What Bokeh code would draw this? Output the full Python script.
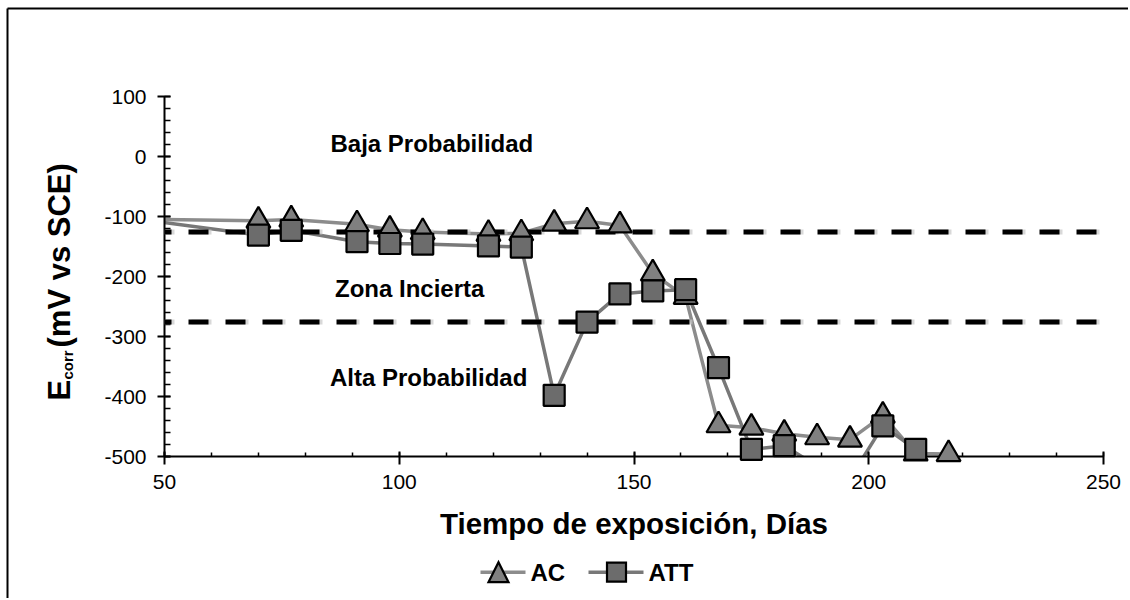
import math
from bokeh.plotting import figure
from bokeh.models import (ColumnDataSource, CDSView, BooleanFilter, Span, Label,
                          Range1d, FixedTicker)
from bokeh.core.properties import value
from bokeh.embed import file_html
from bokeh.resources import INLINE

# ---------------- data ----------------
days_ac = [42, 70, 77, 91, 98, 105, 119, 126, 133, 140, 147, 154, 161, 168,
           175, 182, 189, 196, 203, 210, 217]
ecorr_ac = [-104, -107, -105, -113, -122, -126, -129, -128, -112, -108, -115,
            -195, -234, -448, -452, -462, -468, -472, -432, -495, -496]

days_att = [42, 70, 77, 91, 98, 105, 119, 126, 133, 140, 147, 154, 161, 168,
            175, 182, 189, 196, 203, 210]
ecorr_att = [-102, -131, -123, -142, -145, -146, -149, -151, -398, -276, -229,
             -224, -222, -352, -488, -482, -516, -537, -449, -488]

series_names = ["AC", "ATT"]
x_ticks = [50, 100, 150, 200, 250]
y_ticks = [100, 0, -100, -200, -300, -400, -500]
thresholds = [-126, -276]
zone_labels = ["Baja Probabilidad", "Zona Incierta", "Alta Probabilidad"]
x_title = "Tiempo de exposición, Días"
y_title_parts = ["E", "corr", "(mV vs SCE)"]

X0, X1 = 50, 250
Y0, Y1 = -500, 100
FONT = "Liberation Sans"

W, H = 1128, 598
FL, FR, FT, FB = 164, 1103, 96, 456          # frame edges on the page (px)
SX = (FR - FL) / (X1 - X0)                     # px per x unit
SY = (FB - FT) / (Y1 - Y0)                     # px per y unit


def dx(px):
    return X0 + (px - FL) / SX


def dy(py):
    return Y1 - (py - FT) / SY


p = figure(width=W, height=H,
           x_range=Range1d(X0, X1), y_range=Range1d(Y0, Y1),
           output_backend="svg", toolbar_location=None,
           min_border_left=FL, min_border_right=W - FR,
           min_border_top=FT, min_border_bottom=H - FB)
p.xgrid.visible = False
p.ygrid.visible = False
p.outline_line_color = None
p.background_fill_color = "white"
p.border_fill_color = "white"

# axes
p.xaxis.ticker = FixedTicker(ticks=x_ticks, minor_ticks=list(range(X0, X1 + 1, 10)))
p.yaxis.ticker = FixedTicker(ticks=y_ticks, minor_ticks=list(range(Y0, Y1 + 1, 20)))
p.yaxis.major_label_overrides = {t: str(t) for t in y_ticks}
p.xaxis.major_label_overrides = {t: str(t) for t in x_ticks}
for ax in (p.xaxis[0], p.yaxis[0]):
    ax.axis_line_width = 2
    ax.axis_line_color = "black"
    ax.major_tick_line_width = 2
    ax.major_tick_line_color = "black"
    ax.minor_tick_line_width = 1.5
    ax.minor_tick_line_color = "black"
    ax.major_label_text_font = FONT
    ax.major_label_text_font_size = "21px"
    ax.major_label_text_color = "black"
p.xaxis.major_tick_in = 5
p.xaxis.major_tick_out = 8
p.xaxis.minor_tick_in = 4
p.xaxis.minor_tick_out = 0
p.xaxis.major_label_standoff = 10
p.yaxis.major_tick_in = 6
p.yaxis.major_tick_out = 7
p.yaxis.minor_tick_in = 6
p.yaxis.minor_tick_out = 0
p.yaxis.major_label_standoff = 11

p.xaxis.axis_label = x_title
p.xaxis.axis_label_text_font = FONT
p.xaxis.axis_label_text_font_size = "29.5px"
p.xaxis.axis_label_text_font_style = "bold"
p.xaxis.axis_label_text_color = "black"
p.xaxis.axis_label_standoff = 15

# threshold dashed lines (with a soft shadow)
for t in thresholds:
    p.add_layout(Span(location=t, dimension="width", line_color="#c8c8c8",
                      line_width=5, line_dash="20 17", line_dash_offset=10,
                      line_alpha=0.7))
for t in thresholds:
    p.add_layout(Span(location=t, dimension="width", line_color="black",
                      line_width=5, line_dash="20 17", line_dash_offset=13))

# series
AC_LINE, ATT_LINE = "#8c8c8c", "#787878"
AC_FILL, ATT_FILL = "#808080", "#6c6c6c"
src_ac = ColumnDataSource(dict(x=days_ac, y=ecorr_ac))
src_att = ColumnDataSource(dict(x=days_att, y=ecorr_att))
mask_ac = [(X0 <= x <= X1) and (Y0 <= y <= Y1) for x, y in zip(days_ac, ecorr_ac)]
mask_att = [(X0 <= x <= X1) and (Y0 <= y <= Y1) for x, y in zip(days_att, ecorr_att)]

p.line("x", "y", source=src_ac, line_color=AC_LINE, line_width=3.5)
p.scatter("x", "y", source=src_ac, view=CDSView(filter=BooleanFilter(mask_ac)),
          marker="triangle", size=24, fill_color=AC_FILL,
          line_color="black", line_width=2.2, level="overlay")
p.line("x", "y", source=src_att, line_color=ATT_LINE, line_width=3.5)
p.scatter("x", "y", source=src_att, view=CDSView(filter=BooleanFilter(mask_att)),
          marker="square", size=21, fill_color=ATT_FILL,
          line_color="black", line_width=2.2, level="overlay")

# zone labels
zone_pos = [(dx(330), dy(143.3)), (dx(334.5), dy(288)), (dx(329.5), dy(376.7))]
for txt, (zx, zy) in zip(zone_labels, zone_pos):
    p.add_layout(Label(x=zx, y=zy, text=txt, text_font=FONT, text_font_size="24px",
                       text_font_style="bold", text_color="black",
                       text_align="left", text_baseline="middle"))

# rotated y-axis title with subscript (drawn as text glyphs outside the frame)
ty_x = [dx(59), dx(67), dx(59)]
ty_y = [dy(400), dy(400 - 21), dy(400 - 53)]
ty_sizes = ["31px", "15px", "31px"]
for txt, tx, ty, fs in zip(y_title_parts, ty_x, ty_y, ty_sizes):
    p.text(x=[tx], y=[ty], text=[txt], angle=math.pi / 2,
           text_font=value(FONT), text_font_size=value(fs), text_font_style="bold",
           text_color="black", text_align="left", text_baseline="middle",
           level="overlay")

# outer chart border (left and top edges)
p.segment(x0=[dx(7), dx(7)], y0=[dy(8), dy(8)], x1=[dx(7), dx(1135)], y1=[dy(605), dy(8)],
          line_color="black", line_width=2, level="overlay")


# legend below the axis title (drawn with unclipped overlay glyphs)
def swatch(kind, cx, cy, s):
    """outline of a legend marker centred on page pixel (cx, cy), s px wide"""
    h = s / 2
    if kind == "triangle":
        px = [cx - h, cx + h, cx]
        py = [cy + h, cy + h, cy - h]
    else:
        px = [cx - h, cx + h, cx + h, cx - h]
        py = [cy - h, cy - h, cy + h, cy + h]
    return [dx(v) for v in px], [dy(v) for v in py]


LEG_PY = 571.7
leg_specs = [
    # (line x0, line x1, marker x, text x, line colour, fill, marker, size) in page px
    (480, 525, 498, 530, AC_LINE, AC_FILL, "triangle", 20),
    (588, 643, 616, 648, ATT_LINE, ATT_FILL, "square", 19),
]
for name, (lx0, lx1, mx, tx, lc, fc, mk, sz) in zip(series_names, leg_specs):
    p.segment(x0=[dx(lx0)], y0=[dy(LEG_PY)], x1=[dx(lx1)], y1=[dy(LEG_PY)],
              line_color=lc, line_width=3.5, level="overlay")
    sxs, sys_ = swatch(mk, mx, LEG_PY, sz)
    p.patch(x=sxs, y=sys_, fill_color=fc, line_color="black", line_width=2.2,
            line_join="miter", level="overlay")
    p.text(x=[dx(tx)], y=[dy(LEG_PY)], text=[name],
           text_font=value(FONT), text_font_size=value("24px"), text_font_style="bold",
           text_color="black", text_align="left", text_baseline="middle",
           level="overlay")

open("out.html", "w").write(file_html(p, INLINE))
